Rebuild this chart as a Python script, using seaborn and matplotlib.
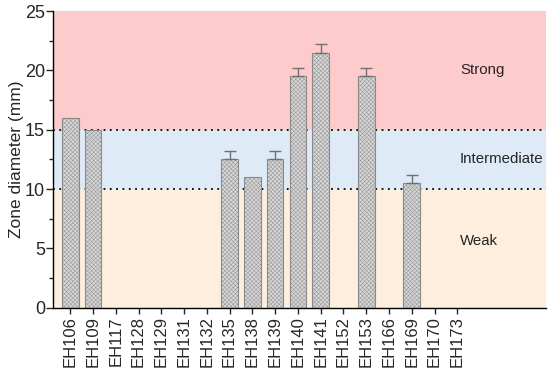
import numpy as np
import pandas as pd
import matplotlib
matplotlib.use("Agg")
import matplotlib.pyplot as plt
import seaborn as sns

# datos
cepas = ["EH106", "EH109", "EH117", "EH128", "EH129", "EH131", "EH132", "EH135", "EH138",
         "EH139", "EH140", "EH141", "EH152", "EH153", "EH166", "EH169", "EH170", "EH173"]
diametro = [16, 15, 0, 0, 0, 0, 0, 12.5, 11, 12.5, 19.5, 21.5, 0, 19.5, 0, 10.5, 0, 0]
error = [0, 0, 0, 0, 0, 0, 0, 0.7, 0, 0.7, 0.7, 0.7, 0, 0.7, 0, 0.7, 0, 0]
zonas = ["Weak", "Intermediate", "Strong"]
limites = [0, 10, 15, 25]
colores_zona = ["#fdeedd", "#deebf7", "#fdcbcc"]

df = pd.DataFrame({"Cepa": cepas, "Diametro": diametro, "Error": error})

sns.set_style("ticks")
plt.rcParams["font.family"] = ["Liberation Sans", "DejaVu Sans"]
plt.rcParams["hatch.linewidth"] = 0.3
plt.rcParams["hatch.color"] = "#9a9a9a"

fig, ax = plt.subplots(figsize=(5.5, 3.7), dpi=100)

# bandas de fondo
for i, zona in enumerate(zonas):
    ax.axhspan(limites[i], limites[i + 1], color=colores_zona[i], zorder=0, lw=0)
    ax.text(17.12, (limites[i] + limites[i + 1]) / 2 + (0.6 if i == 0 else 0),
            zona, fontsize=10.8, va="center", ha="left")
for lim in limites[1:3]:
    ax.axhline(lim, color="black", linestyle=(0, (1, 2.5)), lw=1.3, zorder=1)

sns.barplot(data=df, x="Cepa", y="Diametro", color="#d6d6d6", width=0.73,
            edgecolor="#8a8a8a", linewidth=0.8, saturation=1, ax=ax, zorder=2)
for p in ax.patches:
    p.set_hatch("xxxxxxxx")
    if p.get_height() == 0:
        p.set_visible(False)

con_error = df[df["Error"] > 0]
xpos = [cepas.index(c) for c in con_error["Cepa"]]
ax.errorbar(xpos, con_error["Diametro"], yerr=[np.zeros(len(xpos)), con_error["Error"]],
            fmt="none", ecolor="#707070", elinewidth=1, capsize=4, capthick=1, zorder=3)

ax.set_xlim(-0.74, 20.9)
ax.set_ylim(0, 25)
ax.set_yticks([0, 5, 10, 15, 20, 25])
ax.set_yticks(np.arange(2.5, 25, 5), minor=True)
ax.set_xlabel("")
ax.set_ylabel("Zone diameter (mm)", fontsize=12.5, labelpad=1)
ax.tick_params(axis="x", rotation=90, labelsize=12, length=4, width=1, pad=2)
ax.tick_params(axis="y", labelsize=13, length=5, width=1, pad=1)
ax.tick_params(axis="y", which="minor", length=3, width=1)
sns.despine(ax=ax)
for s in ["left", "bottom"]:
    ax.spines[s].set_linewidth(1)
    ax.spines[s].set_color("black")

fig.subplots_adjust(left=0.097, right=0.993, top=0.97, bottom=0.168)
fig.savefig("out.png", dpi=100)
